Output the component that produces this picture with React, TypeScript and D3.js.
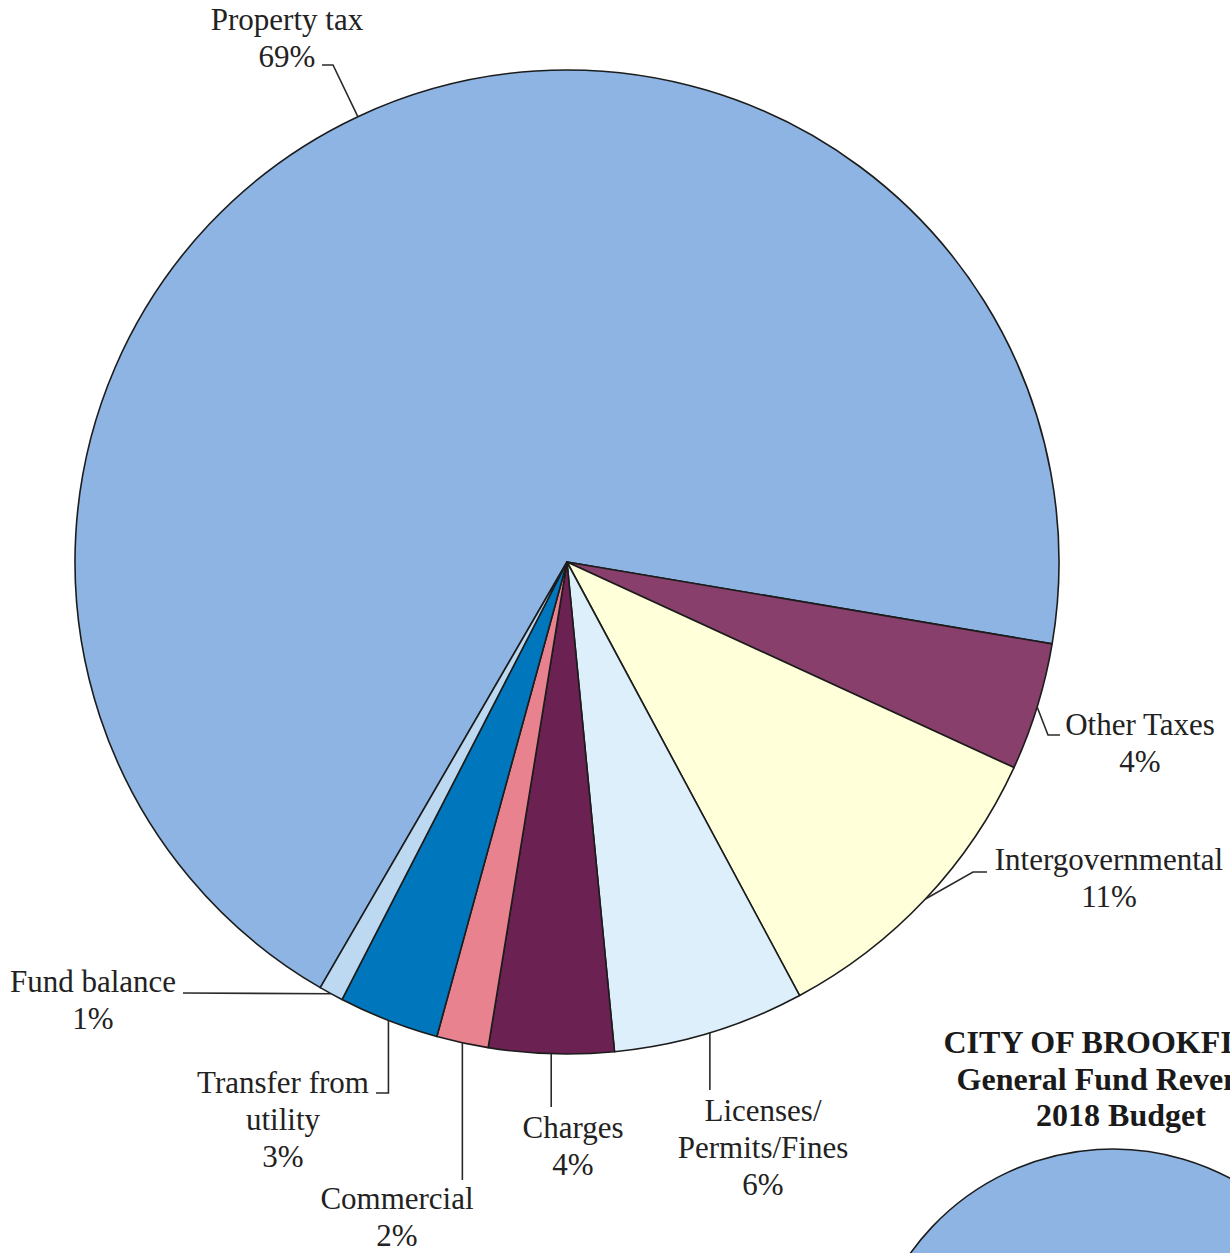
import React from "react";
import * as d3 from "d3";

const categories = [
  "Property tax",
  "Other Taxes",
  "Intergovernmental",
  "Licenses/Permits/Fines",
  "Charges",
  "Commercial",
  "Transfer from utility",
  "Fund balance",
];
const shares = [69.3, 4.2, 10.3, 6.3, 4.1, 1.7, 3.3, 0.8];
const pctLabels = ["69%", "4%", "11%", "6%", "4%", "2%", "3%", "1%"];
const nameLines = [
  ["Property tax"],
  ["Other Taxes"],
  ["Intergovernmental"],
  ["Licenses/", "Permits/Fines"],
  ["Charges"],
  ["Commercial"],
  ["Transfer from", "utility"],
  ["Fund balance"],
];
const sliceColors = [
  "#8DB4E2",
  "#883F6C",
  "#FFFFDA",
  "#DDEFFB",
  "#6B2152",
  "#E8828F",
  "#0077BD",
  "#BCD9F1",
];
const titleLines = ["CITY OF BROOKFIELD", "General Fund Revenues", "2018 Budget"];

const W = 1230;
const H = 1253;
const CX = 567;
const CY = 562;
const R = 492;
const START = (210.1 * Math.PI) / 180;
const FONT = "'Liberation Serif', 'Times New Roman', serif";
const FS = 31;
const LH = 37;

// label layout: text center x, first baseline y, leader elbow points (null x => same as start x)
const labelLayout = [
  { x: 287, y: 30, pts: [[333, 65], [322, 65]] },
  { x: 1140, y: 735, pts: [[1048, 735], [1060, 735]] },
  { x: 1109, y: 870, pts: [[973, 872], [987, 872]] },
  { x: 763, y: 1121, pts: [[null, 1090]] },
  { x: 573, y: 1138, pts: [[null, 1107]] },
  { x: 397, y: 1209, pts: [[null, 1180]] },
  { x: 283, y: 1093, pts: [[null, 1093], [376, 1093]] },
  { x: 93, y: 992, pts: [[183, 993]] },
];

export default function App() {
  const data = categories.map((c, i) => ({ name: c, value: shares[i], i }));
  const pie = d3
    .pie<any>()
    .sort(null)
    .value((d: any) => d.value)
    .startAngle(START)
    .endAngle(START + 2 * Math.PI);
  const arcs = pie(data);
  const arc = d3.arc<any>().innerRadius(0).outerRadius(R);
  const edgeArc = d3.arc<any>().innerRadius(R).outerRadius(R);

  const R2 = 249;
  const C2 = [1113, 1398];
  const arc2 = d3.arc<any>().innerRadius(0).outerRadius(R2);

  const line = d3.line();

  return (
    <div style={{ position: "absolute", left: 0, top: 0, width: W, height: H, overflow: "hidden", background: "#fff" }}>
      <svg width={W} height={H} style={{ display: "block" }}>
        <rect width={W} height={H} fill="#ffffff" />
        <g transform={`translate(${CX},${CY})`}>
          {arcs.map((a, i) => (
            <path
              key={i}
              d={arc(a) as string}
              fill={sliceColors[i]}
              stroke="#1c1c1c"
              strokeWidth={1.6}
              strokeLinejoin="round"
            />
          ))}
        </g>
        {arcs.map((a, i) => {
          const c = edgeArc.centroid(a);
          const sx = CX + c[0];
          const sy = CY + c[1];
          const L = labelLayout[i];
          const pts: [number, number][] = [[sx, sy]];
          L.pts.forEach((p) => pts.push([p[0] == null ? sx : (p[0] as number), p[1] as number]));
          const lines = [...nameLines[i], pctLabels[i]];
          return (
            <g key={"lab" + i}>
              <path d={line(pts) as string} fill="none" stroke="#2a2a2a" strokeWidth={1.6} />
              <text
                x={L.x}
                y={L.y}
                textAnchor="middle"
                fontFamily={FONT}
                fontSize={FS}
                fill="#222"
              >
                {lines.map((t, k) => (
                  <tspan key={k} x={L.x} y={L.y + k * LH}>
                    {t}
                  </tspan>
                ))}
              </text>
            </g>
          );
        })}
        <text textAnchor="middle" fontFamily={FONT} fontSize={32} fontWeight="bold" fill="#1a1a1a">
          {titleLines.map((t, k) => (
            <tspan key={k} x={1121} y={1053 + k * 36.5}>
              {t}
            </tspan>
          ))}
        </text>
        <g transform={`translate(${C2[0]},${C2[1]})`}>
          {arcs.map((a, i) => (
            <path
              key={"p2" + i}
              d={arc2(a) as string}
              fill={sliceColors[i]}
              stroke="#1c1c1c"
              strokeWidth={1.6}
            />
          ))}
        </g>
      </svg>
    </div>
  );
}
